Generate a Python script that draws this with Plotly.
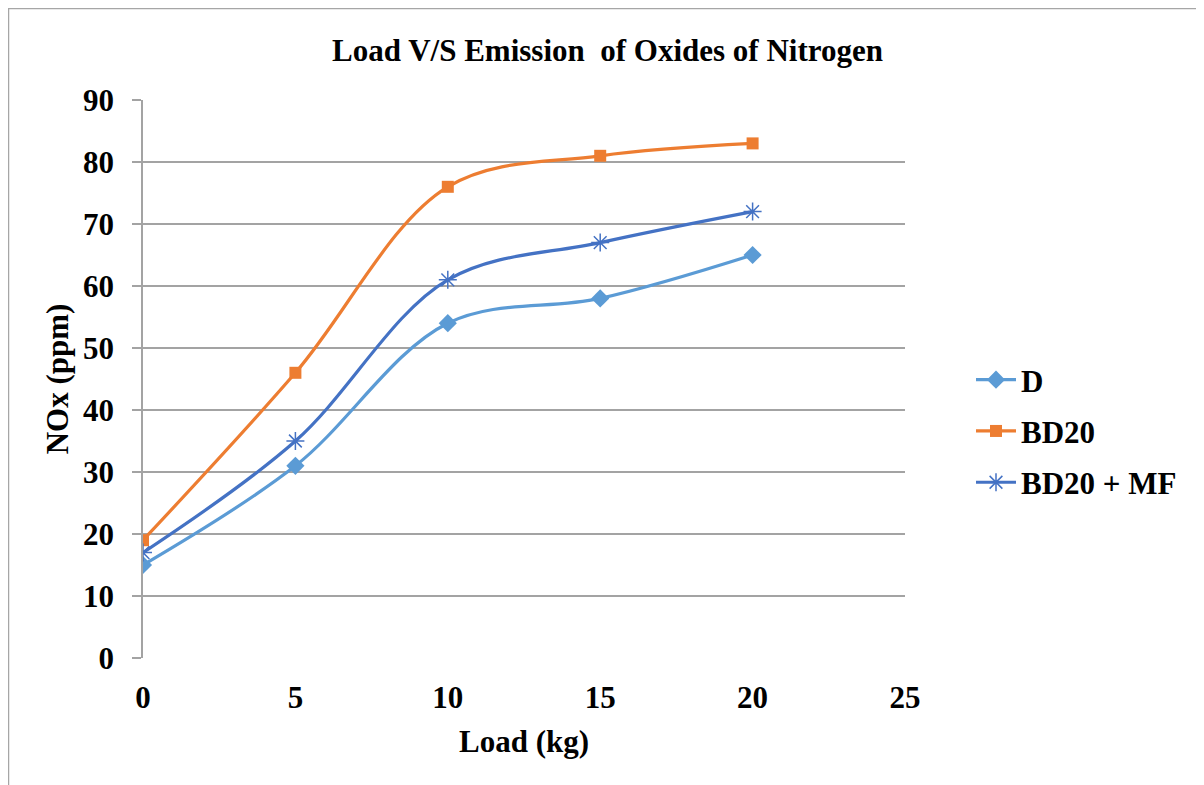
import plotly.graph_objects as go

load = [0, 5, 10, 15, 20]
d_vals = [15, 31, 54, 58, 65]
bd20_vals = [19, 46, 76, 81, 83]
bd20mf_vals = [17, 35, 61, 67, 72]

FONT = "Liberation Serif"
GRID = "#A3A3A3"
# plot area in figure coordinates (page has an 8px body offset)
L, R, T, B = 135, 897, 92, 650
W, H = 1204, 785

fig = go.Figure()
fig.add_trace(go.Scatter(x=load, y=d_vals, name="D", mode="lines+markers", legendgroup="a",
                         line=dict(color="#5B9BD5", width=3.2, shape="spline", smoothing=1),
                         marker=dict(symbol="diamond", size=14, color="#5B9BD5")))
fig.add_trace(go.Scatter(x=load, y=bd20_vals, name="BD20", mode="lines+markers", legendgroup="b",
                         line=dict(color="#ED7D31", width=3.2, shape="spline", smoothing=1),
                         marker=dict(symbol="square", size=12, color="#ED7D31")))
fig.add_trace(go.Scatter(x=load, y=bd20mf_vals, name="BD20 + MF", mode="lines+markers", legendgroup="c",
                         line=dict(color="#4472C4", width=3.2, shape="spline", smoothing=1),
                         marker=dict(symbol="asterisk-open", size=15,
                                     line=dict(color="#4472C4", width=1.5))))

bold = dict(family=FONT, color="black", weight="bold")
fig.update_layout(
    width=W, height=H,
    paper_bgcolor="white", plot_bgcolor="white",
    margin=dict(l=L, r=W - R, t=T, b=H - B),
    font=dict(family=FONT, color="black"),
    title=dict(text="Load V/S Emission  of Oxides of Nitrogen",
               x=599.5 / W, xanchor="center", y=1 - 42 / H, yanchor="middle",
               font=dict(bold, size=31)),
    xaxis=dict(range=[0, 25], tickvals=[0, 5, 10, 15, 20, 25],
               showgrid=False, zeroline=False, showline=False,
               ticks="", tickfont=dict(bold, size=31),
               ticklabelstandoff=18,
               title=dict(text="Load (kg)", font=dict(bold, size=31), standoff=16)),
    yaxis=dict(range=[0, 90], dtick=10, showgrid=True, gridcolor=GRID, gridwidth=1.5,
               zeroline=False, showline=True, linecolor=GRID, linewidth=1.5,
               ticks="outside", ticklen=9, tickcolor=GRID, tickwidth=1.5,
               tickfont=dict(bold, size=31),
               ticklabelstandoff=12,
               title=dict(text="NOx (ppm)", font=dict(bold, size=31), standoff=5)),
    legend=dict(x=(963 - L) / (R - L), y=1 - (423 - T) / (B - T), xanchor="left", yanchor="middle",
                font=dict(bold, size=31), tracegroupgap=8, itemwidth=40),
    showlegend=True,
)

fig.add_shape(type="rect", xref="paper", yref="paper",
              x0=(0.5 - L) / (R - L), x1=1.6, y0=-0.5, y1=1 + (T - 0.5) / (B - T),
              line=dict(color="#A6A6A6", width=1.5), fillcolor="rgba(0,0,0,0)", layer="below")

fig.write_html("out.html")
